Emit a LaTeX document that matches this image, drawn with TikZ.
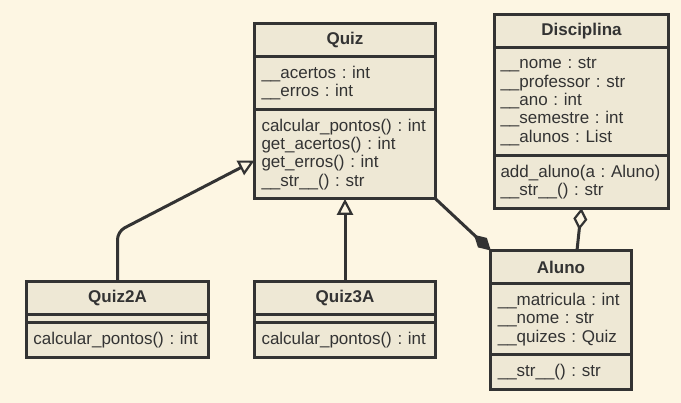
\documentclass[tikz,border=0pt]{standalone}
\usepackage{fontspec}
\setmainfont{Liberation Sans}
\usepackage{tikz}
\usetikzlibrary{calc,positioning,arrows.meta}
\definecolor{bgc}{HTML}{FDF6E3}
\definecolor{boxc}{HTML}{EEE8D5}
\definecolor{linec}{HTML}{333333}
\frenchspacing

\begin{document}
\begin{tikzpicture}
		[x=1pt, y=-1pt, node distance=0pt,
		umlbox/.style={draw=linec, fill=boxc, line width=3pt, outer sep=0pt, inner xsep=7pt, inner ysep=0pt, text=linec, font=\fontsize{17}{18.3}\selectfont\frenchspacing, align=left},
		umltitle/.style={umlbox, minimum height=33.5pt, align=center, font=\fontsize{17}{18.3}\selectfont\bfseries},
		umlpart/.style={umlbox, minimum height=#1*18.3pt+16pt},
		inh/.style={draw=linec, line width=3pt, -{Triangle[open, length=16pt, width=16pt, line width=2.2pt]}},
		comp/.style={draw=linec, line width=3pt, -{Diamond[length=23pt, width=13pt]}},
		aggr/.style={draw=linec, line width=3pt, -{Diamond[open, length=22pt, width=14pt, line width=2.2pt]}}]
		\path[use as bounding box, fill=bgc] (0,0) rectangle (681,403);
		
		\node[umltitle, text width=167pt, anchor=north] (11) at (345,23.5) {Quiz};
		\node[umlpart=2, text width=167pt, below=of 11] (12) {\_\_acertos : int\\\_\_erros : int};
		\node[umlpart=4, text width=167pt, below=of 12] (13) {calcular\_pontos() : int\\get\_acertos() : int\\get\_erros() : int\\\_\_str\_\_() : str};
		
		\node[umltitle, text width=162pt, inner xsep=6pt, anchor=north] (21) at (581.5,14.5) {Disciplina};
		\node[umlpart=5, text width=162pt, inner xsep=6pt, below=of 21] (22) {\_\_nome : str\\\_\_professor : str\\\_\_ano : int\\\_\_semestre : int\\\_\_alunos : List};
		\node[umlpart=2, text width=162pt, inner xsep=6pt, below=of 22] (23) {add\_aluno(a : Aluno)\\\_\_str\_\_() : str};
		
		\node[umltitle, text width=126.4pt, anchor=north] (31) at (561,250.5) {Aluno};
		\node[umlpart=3, text width=126.4pt, below=of 31] (32) {\_\_matricula : int\\\_\_nome : str\\\_\_quizes : Quiz};
		\node[umlpart=1, text width=126.4pt, below=of 32] (33) {\_\_str\_\_() : str};
		
		\node[umltitle, text width=168pt, anchor=north] (41) at (117.5,281.5) {Quiz2A};
		\node[umlbox, minimum height=8pt, text width=168pt, below=of 41] (42) {};
		\node[umlpart=1, text width=168pt, below=of 42] (43) {calcular\_pontos() : int};
		
		\node[umltitle, text width=167pt, anchor=north] (51) at (345,281.5) {Quiz3A};
		\node[umlbox, minimum height=8pt, text width=167pt, below=of 51] (52) {};
		\node[umlpart=1, text width=167pt, below=of 52] (53) {calcular\_pontos() : int};
		
		\draw[inh, rounded corners=8pt] (41.north) -- ++(0,-50) -- (13.184);
		\draw[inh] (51.north) -- (13.south);
		\draw[comp] (13.south east) -- (31.north west);
		\draw[aggr] ($(31.north)+(16,0)$) -- (23.south);
\end{tikzpicture}
\end{document}
